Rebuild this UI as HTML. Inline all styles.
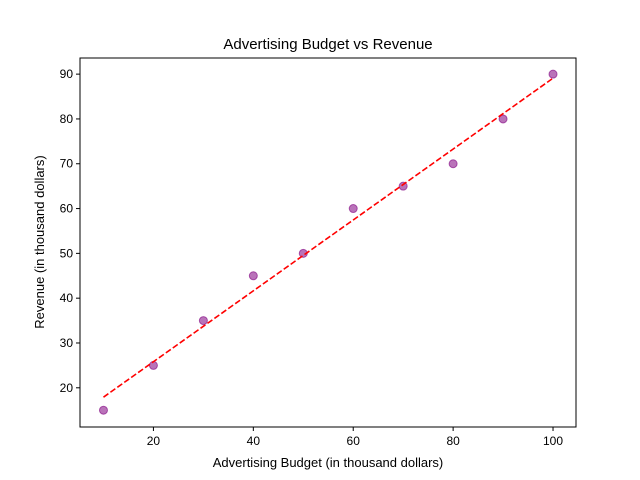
<!DOCTYPE html>
<html><head><meta charset="utf-8"><style>body{margin:0;background:#fff}svg{display:block;font-family:"Liberation Sans","DejaVu Sans",sans-serif}</style></head>
<body>
<svg id="chart" width="640" height="480"></svg>
<script>
const budgets=[10,20,30,40,50,60,70,80,90,100];
const revenues=[15,25,35,45,50,60,65,70,80,90];
const xTicks=[20,40,60,80,100];
const yTicks=[20,30,40,50,60,70,80,90];
const L=80,R=576,T=58,B=427,xMin=5.3,xMax=104.6,yMin=11.25,yMax=93.6;
const sx=v=>L+(v-xMin)/(xMax-xMin)*(R-L);
const sy=v=>B-(v-yMin)/(yMax-yMin)*(B-T);
const svg=document.getElementById('chart');const NS='http://www.w3.org/2000/svg';
function mk(t,a,p){const e=document.createElementNS(NS,t);for(const k in a)e.setAttribute(k,a[k]);(p||svg).appendChild(e);return e;}
const title=mk('text',{x:328,y:49,'text-anchor':'middle','font-size':15});title.textContent='Advertising Budget vs Revenue';


xTicks.forEach(v=>{const x=sx(v);const l=mk('line',{x1:x,x2:x,y1:B,y2:B+4,stroke:'#000'});


const t=mk('text',{x:x,y:B+18,'text-anchor':'middle','font-size':12});t.textContent=v;

});
yTicks.forEach(v=>{const y=sy(v);const l=mk('line',{x1:L-4,x2:L,y1:y,y2:y,stroke:'#000'});


const t=mk('text',{x:L-7,y:y+4,'text-anchor':'end','font-size':12});t.textContent=v;

});
const xl=mk('text',{x:328,y:467,'text-anchor':'middle','font-size':13});xl.textContent='Advertising Budget (in thousand dollars)';


const yl=mk('text',{x:0,y:0,'text-anchor':'middle','font-size':13,transform:'translate(44,242) rotate(-90)'});yl.textContent='Revenue (in thousand dollars)';


budgets.forEach((b,i)=>{const c=mk('circle',{cx:sx(b),cy:sy(revenues[i]),r:4,fill:'rgba(128,0,128,0.55)',stroke:'rgba(128,0,128,0.6)'});

});
const n=budgets.length,mx=budgets.reduce((a,b)=>a+b)/n,my=revenues.reduce((a,b)=>a+b)/n;
let sxy=0,sxx=0;budgets.forEach((b,i)=>{sxy+=(b-mx)*(revenues[i]-my);sxx+=(b-mx)**2;});
const m=sxy/sxx,c0=my-m*mx,x0=budgets[0],x1=budgets[n-1];
const tl=mk('line',{x1:sx(x0),y1:sy(m*x0+c0),x2:sx(x1),y2:sy(m*x1+c0),stroke:'#f00','stroke-width':1.6,'stroke-dasharray':'6,2.5'});


const fr=mk('rect',{x:L,y:T,width:R-L,height:B-T,fill:'none',stroke:'#000','stroke-width':1});


</script>
</body></html>
